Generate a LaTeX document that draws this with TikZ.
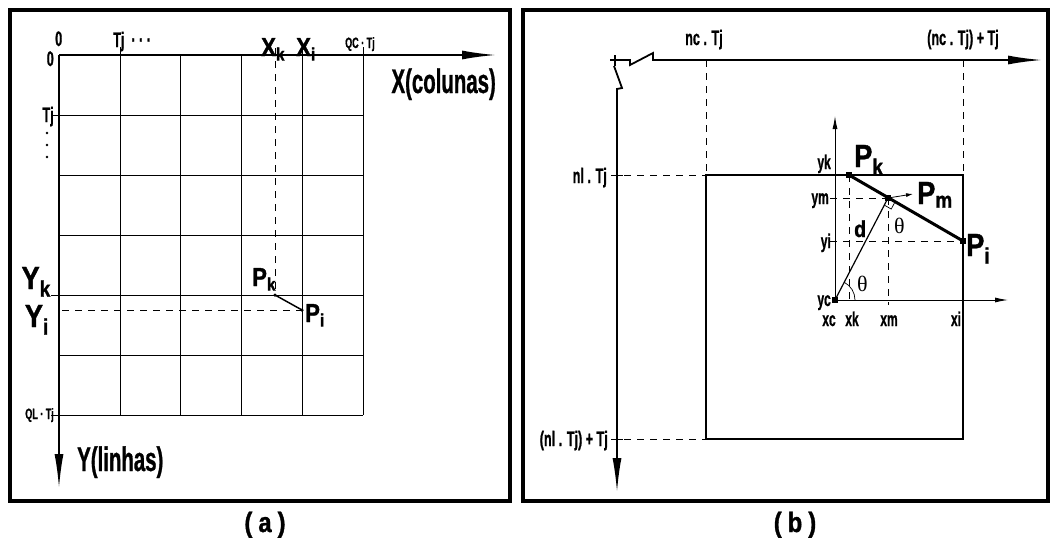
\documentclass[tikz,border=0pt]{standalone}
\usepackage{fontspec}
\setmainfont{Liberation Sans}[FakeStretch=0.72]
\newfontfamily\bigf{Liberation Sans}[FakeStretch=0.6,FakeBold=0.8]
\newfontfamily\capf{Liberation Sans}[FakeStretch=0.85,FakeBold=1.2]
\newfontfamily\serf{Liberation Serif}
\usetikzlibrary{arrows.meta,calc,positioning}

\begin{document}
\begin{tikzpicture}[x=1pt,y=-1pt,every node/.style={inner sep=0pt}]
  \tikzset{frm/.style={line width=3.5pt},
    ax/.style={line width=1.8pt},
    grd/.style={line width=0.9pt},
    dsh/.style={line width=0.8pt,dash pattern=on 7pt off 6pt},
    axtip/.style={-{Latex[length=34pt,width=9pt]}},
    smtip/.style={-{Latex[length=13pt,width=5pt]}},
    lb/.style={font=\bigf\bfseries\fontsize{#1}{#1}\selectfont},
    bg/.style={font=\bigf\bfseries\fontsize{#1}{#1}\selectfont},
    pl/.style={font=\capf\bfseries\fontsize{#1}{#1}\selectfont},
    dot/.style={circle,fill,minimum size=3.5pt},
    sq/.style={rectangle,fill,minimum size=6pt}}
  \useasboundingbox (0,0) rectangle (1052,538);

  % ---------- (a)
  \draw[frm] (10,10) rectangle (510,501);
  \node[pl=28,anchor=base] (capA) at (265,532) {(\hspace{6pt}a\hspace{6pt})};
  \coordinate (oA) at (59,55);
  \coordinate (xA) at (496,55);
  \coordinate (yA) at (59,488);
  \foreach \x in {120,180,241,302,363} \draw[grd] (\x,55) -- (\x,415);
  \foreach \y in {115,175,235,295,355,415} \draw[grd] (59,\y) -- (363,\y);
  \foreach \x in {120,302,363} \draw[grd] (\x,47) -- (\x,55);
  \foreach \y in {115,295,415} \draw[grd] (51,\y) -- (59,\y);
  \draw[ax,axtip] (oA) -- (xA);
  \draw[ax,axtip] (oA) -- (yA);
  \coordinate (xkTop) at (275,48);
  \coordinate (yiLeft) at (62,310);
  \node[dot] (pkA) at (275,295) {};
  \node[dot] (piA) at (302,310) {};
  \draw[dsh] (xkTop) -- (pkA.center);
  \draw[dsh] (yiLeft) -- (piA.center);
  \draw[line width=1.5pt] (pkA.center) -- (piA.center);
  \fill (47,133) circle (1.3pt) (47,145) circle (1.3pt) (47,157) circle (1.3pt);

  \node[lb=21,anchor=base west] (zeroTop) at (55,46) {0};
  \node[lb=21,anchor=base east] (zeroLeft) at (54,66) {0};
  \node[lb=21,anchor=base west] (tjTop) at (113,47) {Tj\ \ ·\ ·\ ·};
  \node[lb=21,anchor=base east] (tjLeft) at (54,122) {Tj};
  \node[lb=15,anchor=base west] (qcTj) at (345,48) {QC · Tj};
  \node[lb=15,anchor=base east] (qlTj) at (54,419) {QL · Tj};
  \node[pl=26,anchor=base west] (xkLbl) at (261,56) {X\textsubscript{k}};
  \node[pl=26,anchor=base west] (xiLbl) at (296,56) {X\textsubscript{i}};
  \node[bg=34,anchor=base east] (xCol) at (496,93) {X(colunas)};
  \node[bg=34,anchor=base west] (yLin) at (77,471) {Y(linhas)};
  \node[pl=32,anchor=base east] (ykLbl) at (51,289) {Y\textsubscript{k}};
  \node[pl=32,anchor=base east] (yiLbl) at (49,327) {Y\textsubscript{i}};
  \node[pl=26,anchor=base west] (pkLblA) at (252,286) {P\textsubscript{k}};
  \node[pl=26,anchor=base west] (piLblA) at (305,322) {P\textsubscript{i}};

  % ---------- (b)
  \draw[frm] (523,10) rectangle (1048,501);
  \node[pl=28,anchor=base] (capB) at (795,532) {(\hspace{6pt}b\hspace{6pt})};
  \coordinate (brkA) at (610,60);
  \coordinate (xB) at (1042,60);
  \coordinate (brkB) at (614,66);
  \coordinate (yB) at (617,492);
  \draw[ax,axtip] (brkA) -- ++(20,0) -- ++(0,5) -- ++(23,-12) -- ++(0,7) -- (xB);
  \draw[ax] (615,55) -- (615,66);
  \draw[ax,axtip] (brkB) -- ++(8,22) -- ++(-5,1) -- (yB);

  \coordinate (ncTop) at (706,60);
  \coordinate (ncBot) at (706,175);
  \coordinate (nc2Top) at (963,60);
  \coordinate (nc2Bot) at (963,175);
  \coordinate (nlL) at (611,175);
  \coordinate (nl2L) at (611,439);
  \draw[dsh] (ncTop) -- (ncBot);
  \draw[dsh] (nc2Top) -- (nc2Bot);
  \draw[dsh] (nlL) -- (ncBot);
  \draw[dsh] (nl2L) -- (706,439);
  \draw[grd] (611,175) -- (623,175) (611,439) -- (623,439);
  \draw[line width=2pt] (706,175) rectangle (963,439);

  \node[sq] (pcB) at (835,300) {};
  \node[sq] (pkB) at (849,175) {};
  \node[sq] (pmB) at (888,198) {};
  \node[sq] (piB) at (963,241) {};
  \coordinate (vTop) at (835,116);
  \coordinate (hEnd) at (1008,300);
  \coordinate (pmArr) at (913,194);
  \draw[grd,smtip] (pcB.center) -- (vTop);
  \draw[grd,smtip] (pcB.center) -- (hEnd);
  \draw[dsh] (pkB.center) -- (849,305);
  \draw[dsh] (pmB.center) -- (888,305);
  \draw[dsh] (830,198) -- (pmB.center);
  \draw[dsh] (830,241) -- (piB.center);
  \draw[line width=3pt] (pkB.center) -- (piB.center);
  \draw[line width=1.2pt] (pcB.center) -- (pmB.center);
  \draw[line width=0.8pt,-{Latex[length=7pt,width=4pt]}] (pmB.center) -- (pmArr);
  \draw[line width=0.7pt] ($(pmB)!8pt!(pcB)$) -- ($(pmB)!8pt!(pcB)+(pmB)!8pt!(piB)-(pmB)$) -- ($(pmB)!8pt!(piB)$);
  \draw[line width=0.7pt] (pcB.center) ++(20,0) arc[start angle=0,end angle=-62.5,radius=20];

  \node[lb=21,anchor=base] (ncLbl) at (704,45) {nc . Tj};
  \node[lb=21,anchor=base] (nc2Lbl) at (963,45) {(nc . Tj) + Tj};
  \node[lb=21,anchor=base east] (nlLbl) at (607,183) {nl . Tj};
  \node[lb=21,anchor=base east] (nl2Lbl) at (608,446) {(nl . Tj) + Tj};
  \node[lb=20,anchor=base east] (ykB) at (831,169) {yk};
  \node[lb=20,anchor=base east] (ymB) at (829,204) {ym};
  \node[lb=20,anchor=base east] (yiB) at (831,248) {yi};
  \node[lb=20,anchor=base east] (ycB) at (831,306) {yc};
  \node[lb=20,anchor=base] (xcB) at (829,326) {xc};
  \node[lb=20,anchor=base] (xkB) at (852,326) {xk};
  \node[lb=20,anchor=base] (xmB) at (889,326) {xm};
  \node[lb=20,anchor=base] (xiB) at (956,326) {xi};
  \node[pl=32,anchor=base west] (pkLblB) at (854,167) {P\textsubscript{k}};
  \node[pl=32,anchor=base west] (pmLblB) at (917,204) {P\textsubscript{m}};
  \node[pl=32,anchor=base west] (piLblB) at (966,256) {P\textsubscript{i}};
  \node[pl=23,anchor=base west] (dLbl) at (854,237) {d};
  \node[font=\serf\fontsize{22}{22}\selectfont,anchor=base west] (th1) at (894,233) {θ};
  \node[font=\serf\fontsize{22}{22}\selectfont,anchor=base west] (th2) at (857,291) {θ};
\end{tikzpicture}
\end{document}
